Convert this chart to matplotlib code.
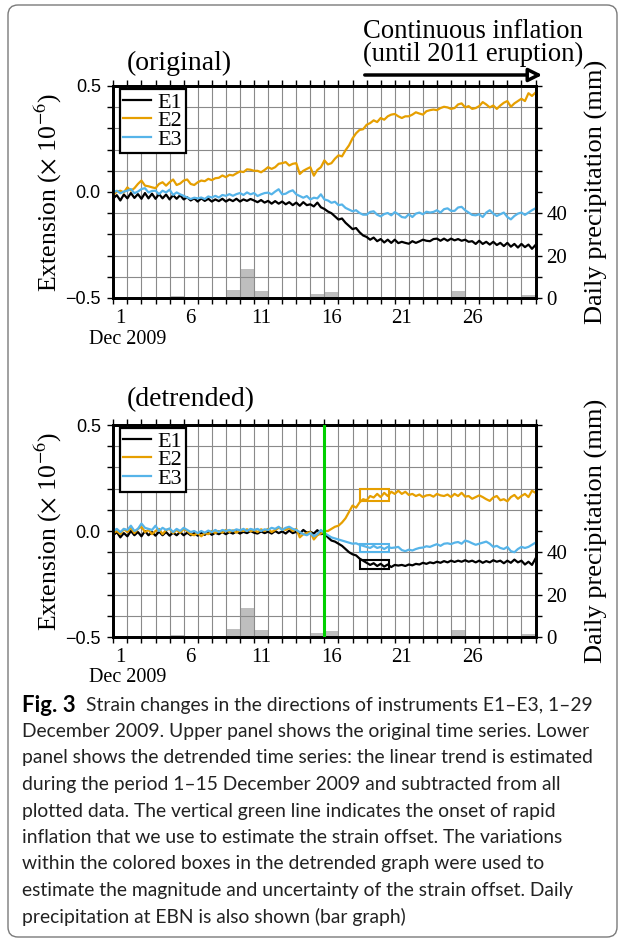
import numpy as np
import matplotlib.pyplot as plt
from matplotlib.patches import FancyBboxPatch, FancyArrowPatch, Rectangle

plt.rcParams['font.family'] = ['Liberation Serif', 'DejaVu Serif']
plt.rcParams['mathtext.fontset'] = 'stix'

# sample times: days since 1 Dec 2009 00:00, one sample every 6 h
days = np.arange(121) / 4.0

# ---- original strain (x 1e-6) ----
e1_orig = [-0.030, -0.015, -0.040, -0.012, -0.030, -0.005, -0.028, -0.010, -0.032, -0.005,
           -0.030, -0.008, -0.032, -0.010, -0.030, -0.012, -0.035, -0.015, -0.032, -0.015,
           -0.035, -0.025, -0.040, -0.030, -0.045, -0.030, -0.042, -0.032, -0.045, -0.035,
           -0.043, -0.032, -0.045, -0.035, -0.043, -0.032, -0.045, -0.035, -0.042, -0.033,
           -0.040, -0.048, -0.038, -0.050, -0.042, -0.055, -0.043, -0.055, -0.045, -0.058,
           -0.048, -0.062, -0.050, -0.065, -0.048, -0.062, -0.058, -0.068, -0.050, -0.072,
           -0.080, -0.092, -0.100, -0.115, -0.130, -0.125, -0.145, -0.160, -0.175, -0.170,
           -0.190, -0.205, -0.212, -0.225, -0.215, -0.232, -0.222, -0.238, -0.225, -0.240,
           -0.225, -0.241, -0.235, -0.240, -0.244, -0.232, -0.240, -0.233, -0.225, -0.230,
           -0.232, -0.222, -0.220, -0.230, -0.220, -0.230, -0.220, -0.228, -0.222, -0.230,
           -0.225, -0.235, -0.232, -0.245, -0.230, -0.245, -0.235, -0.248, -0.235, -0.250,
           -0.240, -0.255, -0.240, -0.258, -0.245, -0.262, -0.245, -0.260, -0.248, -0.268,
           -0.250]
e2_orig = [-0.014, 0.002, 0.006, -0.002, 0.022, 0.006, 0.018, 0.038, 0.054, 0.030,
           0.027, 0.022, 0.018, 0.038, 0.046, 0.030, 0.046, 0.059, 0.033, 0.040,
           0.054, 0.059, 0.038, 0.033, 0.046, 0.054, 0.051, 0.062, 0.056, 0.065,
           0.067, 0.078, 0.070, 0.081, 0.078, 0.088, 0.097, 0.094, 0.107, 0.105,
           0.100, 0.100, 0.093, 0.104, 0.117, 0.109, 0.117, 0.133, 0.136, 0.141,
           0.125, 0.133, 0.136, 0.085, 0.100, 0.109, 0.117, 0.077, 0.104, 0.117,
           0.149, 0.130, 0.136, 0.157, 0.173, 0.168, 0.197, 0.220, 0.253, 0.277,
           0.293, 0.296, 0.317, 0.325, 0.338, 0.330, 0.349, 0.341, 0.357, 0.365,
           0.368, 0.357, 0.349, 0.357, 0.357, 0.365, 0.376, 0.370, 0.365, 0.381,
           0.386, 0.389, 0.386, 0.396, 0.402, 0.399, 0.392, 0.396, 0.413, 0.418,
           0.399, 0.405, 0.392, 0.396, 0.405, 0.424, 0.413, 0.399, 0.408, 0.392,
           0.408, 0.421, 0.429, 0.402, 0.418, 0.429, 0.440, 0.429, 0.466, 0.453,
           0.469]
e3_orig = [-0.002, 0.006, -0.006, 0.002, 0.006, 0.014, -0.006, 0.002, 0.014, 0.018,
           -0.002, 0.005, 0.006, -0.010, 0.006, -0.002, 0.011, -0.014, -0.002, -0.011,
           -0.018, -0.026, -0.033, -0.027, -0.030, -0.026, -0.033, -0.021, -0.026, -0.018,
           -0.026, -0.014, -0.018, -0.010, -0.018, -0.010, -0.005, -0.014, -0.002, -0.011,
           -0.005, -0.019, -0.011, -0.005, -0.003, -0.011, 0.002, 0.013, -0.011, -0.008,
           0.002, 0.008, -0.011, -0.019, -0.027, -0.019, -0.035, -0.027, -0.030, -0.011,
           -0.035, -0.040, -0.051, -0.046, -0.062, -0.059, -0.075, -0.083, -0.091, -0.086,
           -0.099, -0.107, -0.107, -0.094, -0.091, -0.107, -0.115, -0.104, -0.099, -0.110,
           -0.095, -0.105, -0.118, -0.121, -0.105, -0.118, -0.102, -0.097, -0.105, -0.093,
           -0.097, -0.094, -0.086, -0.097, -0.081, -0.077, -0.089, -0.089, -0.073, -0.070,
           -0.086, -0.097, -0.108, -0.110, -0.105, -0.118, -0.097, -0.086, -0.102, -0.113,
           -0.105, -0.097, -0.118, -0.129, -0.113, -0.102, -0.097, -0.108, -0.097, -0.086,
           -0.077]

# ---- detrended strain (x 1e-6) ----
e1_det = [-0.020, -0.005, -0.030, -0.010, -0.025, 0.000, -0.020, -0.005, -0.025, 0.000,
          -0.020, -0.005, -0.022, -0.003, -0.020, -0.005, -0.022, -0.008, -0.020, -0.005,
          -0.020, -0.008, -0.020, -0.010, -0.022, -0.008, -0.018, -0.006, -0.018, -0.008,
          -0.015, -0.005, -0.015, -0.005, -0.012, -0.002, -0.012, -0.004, -0.010, 0.000,
          -0.008, -0.012, -0.002, -0.010, -0.003, -0.012, 0.000, -0.010, -0.002, -0.012,
          0.002, -0.010, -0.004, -0.012, 0.005, -0.008, -0.004, -0.012, 0.004, -0.015,
          -0.010, -0.030, -0.045, -0.050, -0.060, -0.070, -0.085, -0.100, -0.110, -0.115,
          -0.130, -0.140, -0.150, -0.160, -0.152, -0.165, -0.155, -0.168, -0.158, -0.170,
          -0.160, -0.163, -0.160, -0.165, -0.158, -0.162, -0.155, -0.158, -0.150, -0.155,
          -0.148, -0.152, -0.145, -0.150, -0.142, -0.148, -0.140, -0.146, -0.140, -0.145,
          -0.138, -0.145, -0.140, -0.148, -0.140, -0.150, -0.142, -0.148, -0.138, -0.145,
          -0.140, -0.152, -0.140, -0.150, -0.135, -0.148, -0.140, -0.158, -0.145, -0.160,
          -0.130]
e2_det = [-0.010, 0.000, -0.015, 0.010, -0.005, 0.015, -0.010, 0.010, 0.020, -0.005,
          0.005, -0.015, 0.000, 0.010, -0.015, 0.005, 0.010, -0.010, 0.005, -0.008,
          0.010, 0.000, -0.015, -0.020, -0.010, -0.025, -0.010, -0.015, 0.000, -0.010,
          0.000, -0.008, 0.005, -0.005, 0.003, -0.008, 0.005, 0.000, 0.008, -0.002,
          0.005, -0.005, 0.008, 0.000, 0.010, -0.005, 0.005, 0.015, 0.010, 0.005,
          0.015, 0.000, 0.010, -0.030, -0.015, -0.010, -0.005, -0.040, -0.020, -0.012,
          0.000, 0.000, 0.010, 0.020, 0.025, 0.040, 0.060, 0.090, 0.120, 0.110,
          0.135, 0.150, 0.145, 0.165, 0.158, 0.175, 0.160, 0.180, 0.165, 0.185,
          0.175, 0.190, 0.175, 0.185, 0.170, 0.175, 0.165, 0.172, 0.160, 0.168,
          0.170, 0.162, 0.175, 0.168, 0.165, 0.172, 0.160, 0.175, 0.165, 0.180,
          0.162, 0.165, 0.152, 0.160, 0.168, 0.160, 0.150, 0.142, 0.158, 0.165,
          0.145, 0.150, 0.140, 0.160, 0.170, 0.152, 0.165, 0.175, 0.160, 0.190,
          0.180]
e3_det = [0.000, 0.010, -0.005, 0.010, 0.005, 0.025, 0.000, 0.010, 0.035, 0.015,
          0.010, 0.005, 0.025, 0.000, 0.015, 0.005, 0.012, -0.005, 0.010, 0.000,
          0.015, 0.005, -0.005, 0.000, -0.010, 0.000, -0.008, 0.002, -0.005, 0.005,
          -0.005, 0.005, 0.000, 0.005, 0.000, 0.008, 0.003, 0.010, 0.000, 0.010,
          0.005, 0.010, 0.000, 0.008, 0.005, 0.015, 0.010, 0.020, 0.005, 0.015,
          0.020, 0.010, 0.005, -0.005, -0.015, -0.020, -0.010, -0.025, -0.015, 0.005,
          -0.010, -0.020, -0.030, -0.035, -0.040, -0.045, -0.050, -0.055, -0.060, -0.058,
          -0.065, -0.070, -0.075, -0.080, -0.070, -0.080, -0.075, -0.085, -0.075, -0.080,
          -0.078, -0.075, -0.090, -0.095, -0.088, -0.092, -0.085, -0.080, -0.078, -0.072,
          -0.075, -0.068, -0.062, -0.070, -0.060, -0.058, -0.062, -0.055, -0.052, -0.060,
          -0.045, -0.050, -0.058, -0.065, -0.060, -0.055, -0.050, -0.060, -0.075, -0.070,
          -0.080, -0.085, -0.075, -0.095, -0.100, -0.085, -0.075, -0.080, -0.075, -0.065,
          -0.055]

# ---- daily precipitation at EBN (mm), 1..30 December ----
precip_day = list(range(1, 31))
precip_mm = [0, 0, 0, 0, 0.8, 0, 0, 0, 3.7, 13.5, 3.5, 0, 0, 0, 2.0,
             3.0, 0, 0, 0, 0, 0, 0, 0, 0, 3.2, 0, 0, 0.6, 0, 1.2]

# onset of rapid inflation and the offset boxes (detrended panel)
onset_day = 15.0
box_days = (17.5, 19.6)
box_e1 = (-0.181, -0.139)
box_e2 = (0.140, 0.200)
box_e3 = (-0.098, -0.060)

day_labels = ['1', '6', '11', '16', '21', '26']
c_e1, c_e2, c_e3 = 'black', '#e69f00', '#56b4e9'
SERIF = 'Liberation Serif'

fig = plt.figure(figsize=(6.25, 9.42), dpi=100)
W, H = 625.0, 942.0
AX_L, AX_W, AX_H = 113.3, 422.2, 212.0


def make_panel(top_px, e1, e2, e3):
    ax = fig.add_axes([AX_L / W, 1 - (top_px + AX_H) / H, AX_W / W, AX_H / H])
    ax2 = ax.twinx()
    ax2.bar(np.array(precip_day) - 1, precip_mm, width=1.0, align='edge',
            color='#bebebe', linewidth=0)
    ax2.set_ylim(0, 100)
    ax2.set_yticks([0, 20, 40])
    ax2.set_yticklabels(['0', '20', '40'], family=SERIF)
    ax2.set_yticks(np.arange(0, 101, 10), minor=True)
    ax2.tick_params(axis='y', which='both', direction='out', length=4, width=1)
    ax2.tick_params(axis='y', which='major', labelsize=15, pad=4)
    ax2.set_ylabel('Daily precipitation (mm)', fontsize=19)
    ax2.yaxis.set_label_coords((585 - AX_L) / AX_W, 0.5)
    ax.set_zorder(ax2.get_zorder() + 1)
    ax.patch.set_visible(False)

    ax.plot(days, e1, color=c_e1, lw=1.6, label='E1')
    ax.plot(days, e2, color=c_e2, lw=1.6, label='E2')
    ax.plot(days, e3, color=c_e3, lw=1.6, label='E3')

    ax.set_xlim(0, 30)
    ax.set_ylim(-0.5, 0.5)
    ax.set_xticks(np.arange(len(day_labels)) * 5 + 0.5)
    ax.set_xticklabels(day_labels, family=SERIF)
    ax.set_xticks(np.arange(0, 31), minor=True)
    ax.set_yticks([-0.5, 0.0, 0.5])
    ax.set_yticklabels(['\u22120.5', '0.0', '0.5'], family='Liberation Sans')
    ax.set_yticks(np.arange(-0.5, 0.51, 0.1), minor=True)
    ax.xaxis.set_ticks_position('both')
    ax.tick_params(axis='x', which='major', length=0, labelsize=15, pad=8)
    ax.tick_params(axis='x', which='minor', direction='out', length=4, width=1)
    ax.tick_params(axis='y', which='both', direction='out', length=4, width=1)
    ax.tick_params(axis='y', which='major', labelsize=13, pad=5)
    ax.grid(which='minor', color='#8a8a8a', lw=0.8)
    ax.set_ylabel('Extension ($\\times$ 10$^{-6}$)', fontsize=18.5)
    ax.yaxis.set_label_coords((64 - AX_L) / AX_W, 0.5)
    for a in (ax, ax2):
        for s in a.spines.values():
            s.set_linewidth(2.0)

    leg = ax.legend(loc='upper left', bbox_to_anchor=((120 - AX_L) / AX_W, 1 - 3 / AX_H),
                    borderaxespad=0, fontsize=16, frameon=True, fancybox=False,
                    edgecolor='black', framealpha=1, handlelength=1.25,
                    handletextpad=0.3, labelspacing=-0.1, borderpad=0.15)
    leg.get_frame().set_linewidth(1.6)
    return ax


ax_top = make_panel(86, e1_orig, e2_orig, e3_orig)
ax_bot = make_panel(425, e1_det, e2_det, e3_det)

ax_bot.axvline(onset_day, color='#00d000', lw=2.2, zorder=5)
for (lo, hi), c in ((box_e1, c_e1), (box_e2, c_e2), (box_e3, c_e3)):
    ax_bot.add_patch(Rectangle((box_days[0], lo), box_days[1] - box_days[0], hi - lo,
                               fill=False, edgecolor=c, lw=1.5, zorder=6))

fig.text(127 / W, 1 - 63 / H, '(original)', ha='left', va='center', fontsize=20)
fig.text(127 / W, 1 - 400 / H, '(detrended)', ha='left', va='center', fontsize=20)
fig.text(473 / W, 1 - 43 / H, 'Continuous inflation\n(until 2011 eruption)',
         ha='center', va='center', fontsize=19.2, linespacing=0.9)
fig.add_artist(FancyArrowPatch((362 / W, 1 - 75 / H), (545 / W, 1 - 75 / H),
                               transform=fig.transFigure,
                               arrowstyle='-|>,head_length=8,head_width=4',
                               mutation_scale=1, lw=2.5, fc='white', ec='black'))
fig.text(127.5 / W, 1 - 340 / H, 'Dec 2009', ha='center', va='center', fontsize=14.5)
fig.text(127.5 / W, 1 - 678 / H, 'Dec 2009', ha='center', va='center', fontsize=14.5)

cap_lines = [
    'Strain changes in the directions of instruments E1\u2013E3, 1\u201329',
    'December 2009. Upper panel shows the original time series. Lower',
    'panel shows the detrended time series: the linear trend is estimated',
    'during the period 1\u201315 December 2009 and subtracted from all',
    'plotted data. The vertical green line indicates the onset of rapid',
    'inflation that we use to estimate the strain offset. The variations',
    'within the colored boxes in the detrended graph were used to',
    'estimate the magnitude and uncertainty of the strain offset. Daily',
    'precipitation at EBN is also shown (bar graph)',
]
cap_font = ['Lato', 'DejaVu Sans']
fig.text(22 / W, 1 - 705 / H, 'Fig. 3', family=cap_font, fontweight='bold',
         fontsize=16, va='center')
for i, line in enumerate(cap_lines):
    x0 = 86 if i == 0 else 22
    fig.text(x0 / W, 1 - (705 + 26.5 * i) / H, line, family=cap_font,
             fontsize=13.9, va='center', color='#222222')

fig.add_artist(FancyBboxPatch((0.08, 0.05), 6.09, 9.32,
                              boxstyle='round,pad=0,rounding_size=0.1',
                              transform=fig.dpi_scale_trans, fill=False,
                              ec='#7a7a7a', lw=1.0))

fig.savefig('out.png', dpi=100)
